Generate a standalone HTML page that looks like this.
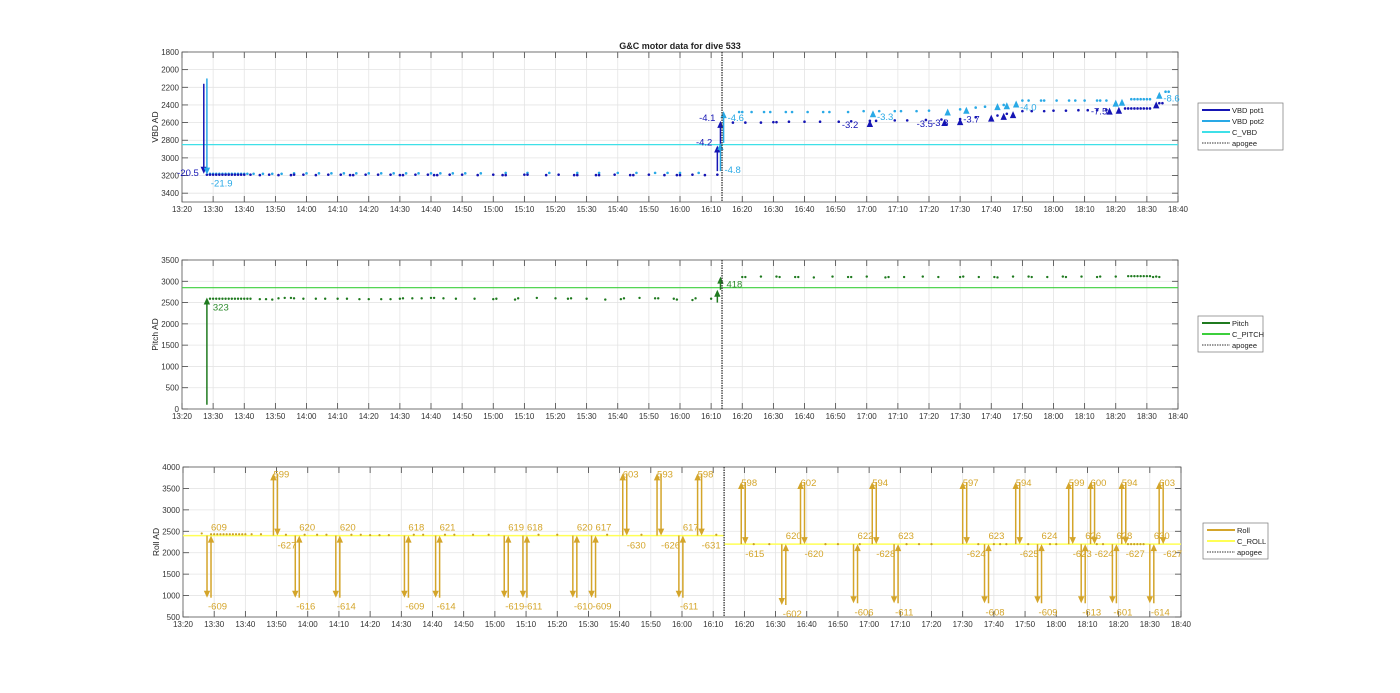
<!DOCTYPE html>
<html><head><meta charset="utf-8">
<style>
body{margin:0;background:#fff;}
svg{display:block;font-family:"Liberation Sans",sans-serif;}
</style></head>
<body>
<svg id="chart" width="1400" height="693" viewBox="0 0 1400 693" xmlns="http://www.w3.org/2000/svg">
<text x="680" y="49" text-anchor="middle" font-size="9" font-weight="bold" fill="#222">G&amp;C motor data for dive 533</text>
</svg>
<script>
// ---------- data ----------
const xTickLabels = ["13:20","13:30","13:40","13:50","14:00","14:10","14:20","14:30","14:40","14:50","15:00","15:10","15:20","15:30","15:40","15:50","16:00","16:10","16:20","16:30","16:40","16:50","17:00","17:10","17:20","17:30","17:40","17:50","18:00","18:10","18:20","18:30","18:40"];
const apogeeTime = "16:13.5";

const vbdTicks = [1800,2000,2200,2400,2600,2800,3000,3200,3400];
const cVbd = 2850;
const pot1Times = ["13:28","13:29","13:30","13:31","13:32","13:33","13:34","13:35","13:36","13:37","13:38","13:39","13:40","13:42","13:45","13:48","13:51","13:55","13:56","13:59","14:03","14:07","14:11","14:14","14:15","14:19","14:23","14:27","14:30","14:31","14:35","14:39","14:41","14:42","14:46","14:50","14:55","15:00","15:03","15:04","15:10","15:11","15:17","15:21","15:26","15:27","15:33","15:34","15:39","15:44","15:45","15:50","15:55","15:59","16:00","16:04","16:08","16:12",
"16:17","16:21","16:26","16:30","16:31","16:35","16:40","16:45","16:51","16:55","17:01","17:03","17:09","17:13","17:19","17:24","17:30","17:35","17:42","17:45","17:50","17:53","17:57","18:00","18:04","18:08","18:11","18:14","18:17","18:23","18:24","18:25","18:26","18:27","18:28","18:29","18:30","18:31","18:34","18:35"];
const pot1Values = [3190,3190,3190,3190,3190,3190,3190,3190,3190,3190,3190,3190,3190,3190,3195,3190,3195,3195,3190,3190,3195,3190,3190,3195,3195,3190,3190,3190,3195,3195,3190,3190,3195,3195,3190,3190,3195,3190,3195,3195,3190,3190,3195,3190,3195,3195,3195,3195,3190,3195,3195,3190,3195,3195,3195,3190,3195,3190,
2600,2600,2600,2595,2595,2590,2590,2590,2590,2585,2580,2580,2575,2575,2570,2565,2560,2540,2520,2500,2470,2470,2470,2465,2465,2460,2460,2460,2455,2440,2440,2440,2440,2440,2440,2440,2440,2440,2380,2380];
const pot2Times = ["13:29","13:30","13:31","13:32","13:33","13:34","13:35","13:36","13:37","13:38","13:39","13:40","13:41","13:43","13:46","13:49","13:52","13:56","14:00","14:04","14:08","14:12","14:16","14:20","14:24","14:28","14:32","14:36","14:40","14:43","14:47","14:51","14:56","15:04","15:11","15:18","15:27","15:34","15:40","15:46","15:52","15:56","16:00","16:06",
"16:19","16:20","16:23","16:27","16:29","16:34","16:36","16:41","16:46","16:48","16:54","16:59","17:04","17:09","17:11","17:16","17:20","17:30","17:35","17:38","17:44","17:50","17:52","17:56","17:57","18:01","18:05","18:07","18:10","18:14","18:15","18:17","18:25","18:26","18:27","18:28","18:29","18:30","18:31","18:36","18:37"];
const pot2Values = [3180,3180,3180,3180,3180,3180,3180,3180,3180,3180,3180,3180,3180,3180,3180,3180,3180,3175,3175,3175,3175,3175,3175,3175,3175,3175,3175,3175,3175,3175,3175,3175,3175,3170,3170,3170,3170,3170,3170,3170,3170,3170,3170,3170,
2480,2480,2480,2480,2480,2480,2480,2480,2480,2480,2480,2470,2470,2470,2470,2470,2465,2450,2430,2420,2400,2350,2350,2350,2350,2350,2350,2350,2350,2350,2350,2350,2335,2335,2335,2335,2335,2335,2335,2250,2250];
const pot1MoveTimes = ["13:27","16:12","16:13","17:01","17:25","17:30","17:40","17:44","17:47","18:18","18:21","18:33"];
const pot1MoveFrom  = [2160,3150,2850,2600,2600,2580,2540,2520,2500,2460,2440,2400];
const pot1MoveTo    = [3180,2860,2580,2570,2560,2550,2510,2490,2470,2430,2420,2360];
const pot1MoveLabels= ["-20.5","-4.2","-4.1","-3.2","-3.5","-3.8","-3.7","","","","-7.5",""];
const pot2MoveTimes = ["13:28","16:13","16:14","17:02","17:26","17:32","17:42","17:45","17:48","18:20","18:22","18:34"];
const pot2MoveFrom  = [2100,3150,2830,2500,2480,2460,2420,2400,2380,2370,2360,2300];
const pot2MoveTo    = [3190,2830,2470,2460,2440,2420,2380,2370,2350,2340,2330,2250];
const pot2MoveLabels= ["-21.9","-4.8","-4.6","-3.3","","","","","-4.0","","","-8.6"];

const pitchTicks = [0,500,1000,1500,2000,2500,3000,3500];
const cPitch = 2850;
const pitchTimes = ["13:29","13:30","13:31","13:32","13:33","13:34","13:35","13:36","13:37","13:38","13:39","13:40","13:41","13:42","13:45","13:47","13:49","13:51","13:53","13:55","13:56","13:59","14:03","14:06","14:10","14:13","14:17","14:20","14:24","14:27","14:30","14:31","14:34","14:37","14:40","14:41","14:44","14:48","14:54","15:00","15:01","15:07","15:08","15:14","15:20","15:24","15:25","15:30","15:36","15:41","15:42","15:47","15:52","15:53","15:58","15:59","16:04","16:05","16:10",
"16:20","16:21","16:26","16:31","16:32","16:37","16:38","16:43","16:49","16:54","16:55","17:00","17:06","17:07","17:12","17:18","17:23","17:30","17:31","17:36","17:41","17:42","17:47","17:52","17:53","17:58","18:03","18:04","18:09","18:14","18:15","18:20","18:24","18:25","18:26","18:27","18:28","18:29","18:30","18:31","18:32","18:33","18:34"];
const pitchValues = [2590,2590,2590,2590,2590,2590,2590,2590,2590,2590,2590,2590,2590,2590,2580,2580,2570,2600,2610,2610,2600,2590,2590,2590,2590,2590,2580,2580,2580,2580,2590,2600,2600,2600,2610,2610,2600,2590,2590,2580,2590,2570,2600,2610,2600,2590,2600,2590,2570,2580,2600,2610,2600,2600,2590,2570,2560,2600,2590,
3100,3100,3110,3110,3100,3100,3100,3090,3110,3100,3100,3110,3090,3100,3100,3110,3100,3100,3110,3100,3100,3090,3110,3110,3100,3100,3110,3100,3110,3100,3110,3110,3120,3120,3120,3120,3120,3120,3120,3120,3100,3110,3100];
const pitchMoveTimes = ["13:28","16:12","16:13"];
const pitchMoveFrom  = [100,2500,2800];
const pitchMoveTo    = [2620,2800,3110];
const pitchMoveLabels= ["323","","418"];

const rollTicks = [500,1000,1500,2000,2500,3000,3500,4000];
const cRollPre = 2400;
const cRollPost = 2200;
const rollDotTimes = ["13:26","13:29","13:30","13:31","13:32","13:33","13:34","13:35","13:36","13:37","13:38","13:39","13:40","13:42","13:45","13:53","13:59","14:03","14:06","14:14","14:17","14:20","14:23","14:26","14:34","14:37","14:44","14:47","14:53","14:58","15:14","15:20","15:36","15:47","16:11",
"16:23","16:28","16:46","16:50","16:57","17:12","17:16","17:20","17:35","17:40","17:42","17:44","17:51","17:58","18:00","18:13","18:15","18:23","18:24","18:25","18:26","18:27","18:28"];
const rollDotValues = [2450,2430,2430,2430,2430,2430,2430,2430,2430,2430,2430,2430,2430,2430,2430,2420,2420,2420,2420,2420,2420,2410,2410,2410,2420,2420,2420,2420,2420,2420,2420,2420,2420,2420,2420,
2200,2200,2200,2200,2200,2200,2200,2200,2200,2200,2200,2200,2200,2200,2200,2200,2200,2200,2200,2200,2200,2200,2200];
const rollEventTimes = ["13:27.7","13:49","13:56","14:09","14:31","14:41","15:03","15:09","15:25","15:31","15:41","15:52","15:59","16:05",
"16:19","16:32","16:38","16:55","17:01","17:08","17:30","17:37","17:47","17:54","18:04","18:08","18:11","18:18","18:21","18:30","18:33"];
const rollEventPeak = [950,3850,950,950,950,950,950,950,950,950,3850,3850,950,3850,
3650,780,3650,820,3650,820,3650,820,3650,820,3650,820,3650,820,3650,820,3650];
const rollOutLabels = ["-609","599","-616","-614","-609","-614","-619","-611","-610","-609","603","593","-611","598",
"598","-602","602","-606","594","-611","597","-608","594","-609","599","-613","600","-601","594","-614","603"];
const rollBackLabels = ["609","-627","620","620","618","621","619","618","620","617","-630","-626","617","-631",
"-615","620","-620","622","-628","623","-624","623","-625","624","-623","626","-624","628","-627","630","-627"];

// ---------- helpers ----------
const NS = "http://www.w3.org/2000/svg";
const svg = document.getElementById("chart");
function mk(tag, attrs, parent){ const e=document.createElementNS(NS,tag); for(const k in attrs) e.setAttribute(k,attrs[k]); (parent||svg).appendChild(e); return e; }
function tmin(s){ const p=s.split(":"); return parseFloat(p[0])*60+parseFloat(p[1]); }

function makePanel(cfg){
  const g = mk("g",{});
  
  
  const t0=tmin("13:20"), t1=tmin("18:40");
  const X = t => cfg.left + (tmin(t)-t0)/(t1-t0)*(cfg.right-cfg.left);
  const Y = v => cfg.rev ? cfg.top + (v-cfg.ymin)/(cfg.ymax-cfg.ymin)*(cfg.bottom-cfg.top)
                         : cfg.bottom - (v-cfg.ymin)/(cfg.ymax-cfg.ymin)*(cfg.bottom-cfg.top);
  const grid = mk("g",{},g);
  
  
  xTickLabels.forEach(l=>{
    const x=X(l);
    mk("line",{x1:x,x2:x,y1:cfg.top,y2:cfg.bottom,stroke:"#e4e4e4","stroke-width":0.8},grid);
    mk("line",{x1:x,x2:x,y1:cfg.bottom,y2:cfg.bottom-6,stroke:"#444","stroke-width":0.8},grid);
    mk("line",{x1:x,x2:x,y1:cfg.top,y2:cfg.top+6,stroke:"#444","stroke-width":0.8},grid);
    const tx=mk("text",{x:x,y:cfg.bottom+10,"text-anchor":"middle","font-size":8,fill:"#333"},g);
    tx.textContent=l;
    
    
  });
  cfg.ticks.forEach(v=>{
    const y=Y(v);
    mk("line",{x1:cfg.left,x2:cfg.right,y1:y,y2:y,stroke:"#e4e4e4","stroke-width":0.8},grid);
    mk("line",{x1:cfg.left,x2:cfg.left+6,y1:y,y2:y,stroke:"#444","stroke-width":0.8},grid);
    mk("line",{x1:cfg.right,x2:cfg.right-6,y1:y,y2:y,stroke:"#444","stroke-width":0.8},grid);
    const tx=mk("text",{x:cfg.left-3,y:y+3,"text-anchor":"end","font-size":8,fill:"#333"},g);
    tx.textContent=v;
    
    
  });
  const fr=mk("rect",{x:cfg.left,y:cfg.top,width:cfg.right-cfg.left,height:cfg.bottom-cfg.top,fill:"none",stroke:"#555","stroke-width":0.8},g);
  
  
  const yl=mk("text",{x:0,y:0,"text-anchor":"middle","font-size":8.5,fill:"#222",transform:`translate(${cfg.left-24},${(cfg.top+cfg.bottom)/2}) rotate(-90)`},g);
  yl.textContent=cfg.ylabel;
  
  
  return {g,X,Y};
}
function arrow(g,x,y1,y2,color,w,name){
  const dir = y2<y1 ? -1 : 1;
  const a=mk("g",{},g);
  
  
  mk("line",{x1:x,x2:x,y1:y1,y2:y2-dir*6,stroke:color,"stroke-width":w},a);
  mk("polygon",{points:`${x-3.2},${y2-dir*7} ${x+3.2},${y2-dir*7} ${x},${y2}`,fill:color},a);
}
function dots(g,X,Y,times,vals,color,r,name){
  times.forEach((t,i)=>{
    const c=mk("circle",{cx:X(t),cy:Y(vals[i]),r:r,fill:color},g);
    
    
  });
}
function label(g,x,y,txt,color,name,anchor){
  const t=mk("text",{x:x,y:y,"font-size":9.5,fill:color,"text-anchor":anchor||"start"},g);
  t.textContent=txt;
  
  
}
function legend(x,y,w,items,name){
  const g=mk("g",{});
  
  
  mk("rect",{x:x,y:y,width:w,height:items.length*11+3,fill:"#fff",stroke:"#777","stroke-width":0.7},g);
  items.forEach((it,i)=>{
    const yy=y+7+i*11;
    const e=mk("g",{},g);
    
    
    mk("line",{x1:x+4,x2:x+32,y1:yy,y2:yy,stroke:it[1],"stroke-width":it[2]?1:2,"stroke-dasharray":it[2]?"1.5,1":""},e);
    const t=mk("text",{x:x+34,y:yy+3,"font-size":7.5,fill:"#222"},e);
    t.textContent=it[0];
  });
}
function apogee(p,cfg){
  const x=p.X(apogeeTime);
  const l=mk("line",{x1:x,x2:x,y1:cfg.top,y2:cfg.bottom,stroke:"#333","stroke-width":1.3,"stroke-dasharray":"1.5,1"},p.g);
  
  
}

// ---------- VBD panel ----------
const c1={name:"vbd-panel",prefix:"vbd",left:182,right:1178,top:52,bottom:202,ymin:1800,ymax:3500,rev:true,ticks:vbdTicks,ylabel:"VBD AD"};
const p1=makePanel(c1);
const cv=mk("line",{x1:c1.left,x2:c1.right,y1:p1.Y(cVbd),y2:p1.Y(cVbd),stroke:"#3fe0e8","stroke-width":1.3},p1.g);


dots(p1.g,p1.X,p1.Y,pot2Times,pot2Values,"#29a9e6",1.3,"vbd-pot2-point");
dots(p1.g,p1.X,p1.Y,pot1Times,pot1Values,"#1515b4",1.3,"vbd-pot1-point");
pot1MoveTimes.forEach((t,i)=>{
  const x=p1.X(t),ya=p1.Y(pot1MoveFrom[i]),yb=p1.Y(pot1MoveTo[i]);
  arrow(p1.g,x,ya,yb,"#1515b4",1.5,"vbd-pot1-move");
  const L=pot1MoveLabels[i];
  if(L){ if(i<3) label(p1.g,x-5,yb+(i==0?2:0),L,"#1515b4","vbd-pot1-label","end"); else label(p1.g,x-28,yb+8,L,"#1515b4","vbd-pot1-label"); }
});
pot2MoveTimes.forEach((t,i)=>{
  const x=p1.X(t),ya=p1.Y(pot2MoveFrom[i]),yb=p1.Y(pot2MoveTo[i]);
  arrow(p1.g,x,ya,yb,"#29a9e6",1.5,"vbd-pot2-move");
  const L=pot2MoveLabels[i];
  if(L){ if(i==0) label(p1.g,x+4,yb+12,L,"#29a9e6","vbd-pot2-label"); else if(i==1) label(p1.g,x+4,ya+2,L,"#29a9e6","vbd-pot2-label"); else label(p1.g,x+4,yb+10,L,"#29a9e6","vbd-pot2-label"); }
});
apogee(p1,c1);
legend(1198,103,85,[["VBD pot1","#1515b4"],["VBD pot2","#29a9e6"],["C_VBD","#3fe0e8"],["apogee","#333",true]],"vbd-legend");

// ---------- Pitch panel ----------
const c2={name:"pitch-panel",prefix:"pitch",left:182,right:1178,top:260,bottom:409,ymin:0,ymax:3500,rev:false,ticks:pitchTicks,ylabel:"Pitch AD"};
const p2=makePanel(c2);
const cp=mk("line",{x1:c2.left,x2:c2.right,y1:p2.Y(cPitch),y2:p2.Y(cPitch),stroke:"#3ccf3c","stroke-width":1.2},p2.g);


dots(p2.g,p2.X,p2.Y,pitchTimes,pitchValues,"#1f7a1f",1.2,"pitch-point");
pitchMoveTimes.forEach((t,i)=>{
  const x=p2.X(t),yb=p2.Y(pitchMoveTo[i]);
  arrow(p2.g,x,p2.Y(pitchMoveFrom[i]),yb,"#1f7a1f",1.5,"pitch-move");
  if(pitchMoveLabels[i]) label(p2.g,x+6,yb+(i==0?13:11),pitchMoveLabels[i],"#2e8b2e","pitch-label");
});
apogee(p2,c2);
legend(1198,316,65,[["Pitch","#1f7a1f"],["C_PITCH","#3ccf3c"],["apogee","#333",true]],"pitch-legend");

// ---------- Roll panel ----------
const c3={name:"roll-panel",prefix:"roll",left:183,right:1181,top:467,bottom:617,ymin:500,ymax:4000,rev:false,ticks:rollTicks,ylabel:"Roll AD"};
const p3=makePanel(c3);
const ax=p3.X(apogeeTime);
const cr1=mk("line",{x1:c3.left,x2:ax,y1:p3.Y(cRollPre),y2:p3.Y(cRollPre),stroke:"#ffff55","stroke-width":1.5},p3.g);


const cr2=mk("line",{x1:ax,x2:c3.right,y1:p3.Y(cRollPost),y2:p3.Y(cRollPost),stroke:"#ffff55","stroke-width":1.5},p3.g);


dots(p3.g,p3.X,p3.Y,rollDotTimes,rollDotValues,"#c9a227",1.1,"roll-point");
const rc="#d4a52a";
rollEventTimes.forEach((t,i)=>{
  const base = tmin(t) < tmin(apogeeTime) ? cRollPre : cRollPost;
  const x1=p3.X(t), x2=x1+4;
  const yb=p3.Y(base), yp=p3.Y(rollEventPeak[i]);
  arrow(p3.g,x1,yb,yp,rc,1.5,"roll-move-out");
  arrow(p3.g,x2,yp,yb,rc,1.5,"roll-move-back");
  const up = rollEventPeak[i] > base;
  if(up){
    label(p3.g,x1,yp+4,rollOutLabels[i],rc,"roll-label");
    label(p3.g,x2,yb+13,rollBackLabels[i],rc,"roll-label");
  } else {
    label(p3.g,x1+1,yp+12,rollOutLabels[i],rc,"roll-label");
    label(p3.g,x2,yb-5,rollBackLabels[i],rc,"roll-label");
  }
});
apogee(p3,c3);
legend(1203,523,65,[["Roll",rc],["C_ROLL","#ffff55"],["apogee","#333",true]],"roll-legend");
</script>
</body></html>
